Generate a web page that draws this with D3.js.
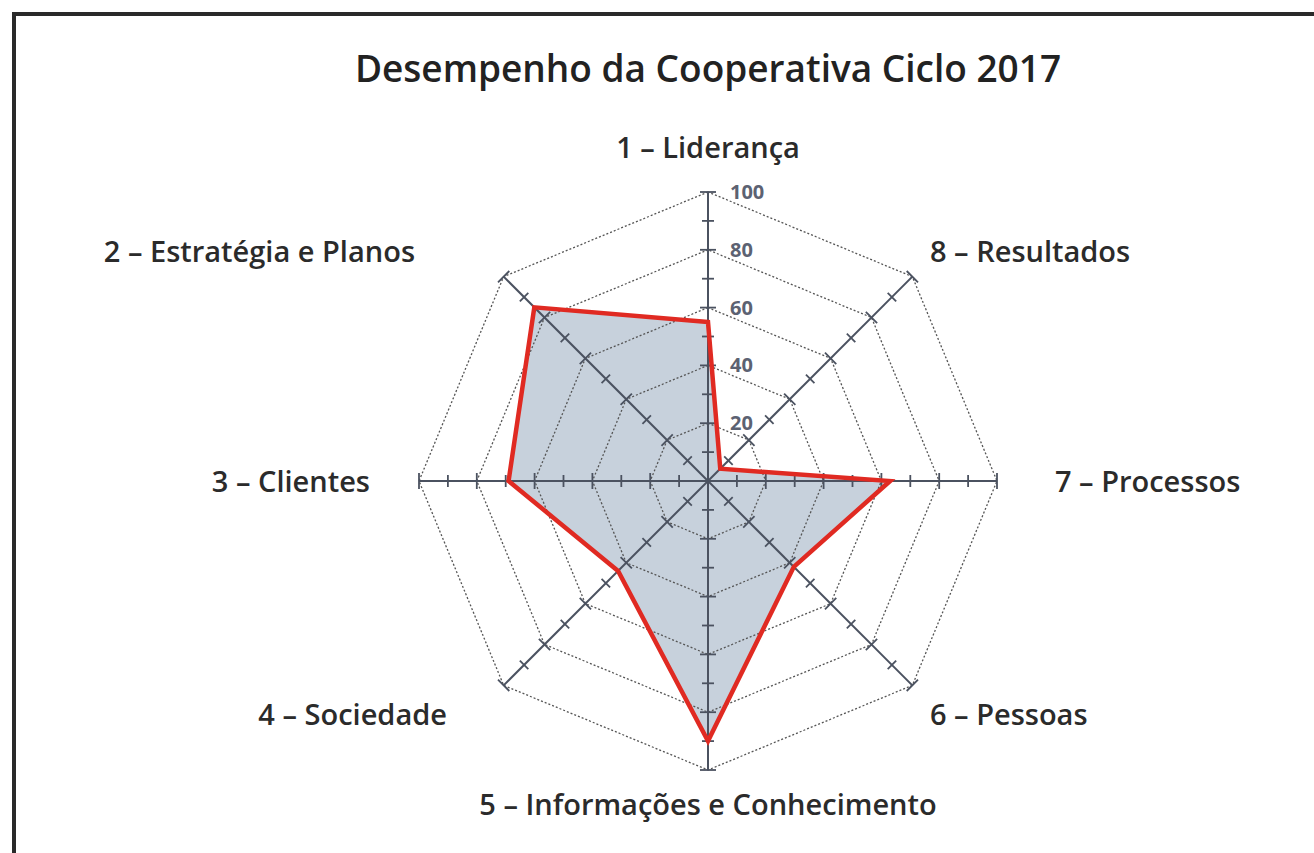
<!DOCTYPE html>
<html>
<head>
<meta charset="utf-8">
<script src="https://cdn.jsdelivr.net/npm/d3@7"></script>
<style>
  body { margin: 0; background: #fff; }
  svg text { font-family: "Open Sans", "Noto Sans", sans-serif; }
</style>
</head>
<body>
<div id="chart"></div>
<script>
const width = 1314;
const height = 853;
const cx = 708, cy = 481;
const maxR = 289;

// data
const categories = ["1 – Liderança", "2 – Estratégia e Planos", "3 – Clientes", "4 – Sociedade",
                    "5 – Informações e Conhecimento", "6 – Pessoas", "7 – Processos", "8 – Resultados"];
const values = [55, 85, 69, 44, 90, 42, 63, 6];
const gridLevels = [20, 40, 60, 80, 100];
const tickLabels = ["20", "40", "60", "80", "100"];

var svg = d3.select("#chart")
    .append("svg")
    .attr("width", width)
    .attr("height", height)

// frame
svg.append("rect")
    .attr("x", 14)
    .attr("y", 14)
    .attr("width", width + 20)
    .attr("height", height + 20)
    .attr("fill", "none")
    .attr("stroke", "#2a2a2a")
    .attr("stroke-width", 4)

svg.append("text")
    .attr("x", cx)
    .attr("y", 82)
    .attr("text-anchor", "middle")
    .style("font-size", "37px")
    .style("font-weight", 600)
    .style("fill", "#222")
    .text("Desempenho da Cooperativa Ciclo 2017")

var r = d3.scaleLinear().domain([0, 100]).range([0, maxR]);
// axis i points up for i=0, then counterclockwise
var angle = d3.scalePoint().domain(d3.range(categories.length)).range([0, 2 * Math.PI * 7 / 8]);

function pt(i, v) {
    var a = angle(i);
    return [cx - r(v) * Math.sin(a), cy - r(v) * Math.cos(a)];
}

var g = svg.append("g")

// data polygon fill
var poly = d3.line()(values.map((v, i) => pt(i, v))) + "Z";
g.append("path")
    .attr("d", poly)
    .attr("fill", "#c7d1dc")
    .attr("stroke", "none")

// grid octagons (dotted)
g.selectAll("path.grid")
    .data(gridLevels)
    .enter()
    .append("path")
    .attr("class", "grid")
    .attr("d", lv => d3.line()(categories.map((c, i) => pt(i, lv))) + "Z")
    .attr("fill", "none")
    .attr("stroke", "#555")
    .attr("stroke-width", 1.3)
    .attr("stroke-dasharray", "2,2")

// axes
g.selectAll("line.axis")
    .data(categories)
    .enter()
    .append("line")
    .attr("class", "axis")
    .attr("x1", cx)
    .attr("y1", cy)
    .attr("x2", (d, i) => pt(i, 100)[0])
    .attr("y2", (d, i) => pt(i, 100)[1])
    .attr("stroke", "#4b5260")
    .attr("stroke-width", 2)

// tick marks every 10
var ticks = [];
categories.forEach((c, i) => {
    d3.range(10, 101, 10).forEach(t => ticks.push({ i: i, t: t }));
});
function tickEnd(d, s) {
    var p = pt(d.i, d.t), a = angle(d.i), h = d.t % 20 == 0 ? 8 : 6;
    return [p[0] + s * h * Math.cos(a), p[1] - s * h * Math.sin(a)];
}
g.selectAll("line.tick")
    .data(ticks)
    .enter()
    .append("line")
    .attr("class", "tick")
    .attr("x1", d => tickEnd(d, -1)[0])
    .attr("y1", d => tickEnd(d, -1)[1])
    .attr("x2", d => tickEnd(d, 1)[0])
    .attr("y2", d => tickEnd(d, 1)[1])
    .attr("stroke", "#4b5260")
    .attr("stroke-width", 1.8)

// data outline
g.append("path")
    .attr("d", poly)
    .attr("fill", "none")
    .attr("stroke", "#e02a22")
    .attr("stroke-width", 4.5)
    .attr("stroke-linejoin", "miter")

// tick labels on top axis
g.selectAll("text.ticklabel")
    .data(gridLevels)
    .enter()
    .append("text")
    .attr("class", "ticklabel")
    .attr("x", cx + 22)
    .attr("y", (d) => cy - r(d) + 7)
    .style("font-size", "20px")
    .style("font-weight", "bold")
    .style("fill", "#5c6272")
    .text((d, i) => tickLabels[i])

// category labels
const labelPos = [
    { x: 708, y: 158, anchor: "middle" },
    { x: 415, y: 262, anchor: "end" },
    { x: 370, y: 492, anchor: "end" },
    { x: 447, y: 725, anchor: "end" },
    { x: 708, y: 815, anchor: "middle" },
    { x: 930, y: 725, anchor: "start" },
    { x: 1055, y: 492, anchor: "start" },
    { x: 930, y: 262, anchor: "start" }
];
svg.selectAll("text.cat")
    .data(categories)
    .enter()
    .append("text")
    .attr("class", "cat")
    .attr("x", (d, i) => labelPos[i].x)
    .attr("y", (d, i) => labelPos[i].y)
    .attr("text-anchor", (d, i) => labelPos[i].anchor)
    .style("font-size", "29px")
    .style("font-weight", 600)
    .style("fill", "#2b2b2b")
    .text(d => d)
</script>
</body>
</html>
